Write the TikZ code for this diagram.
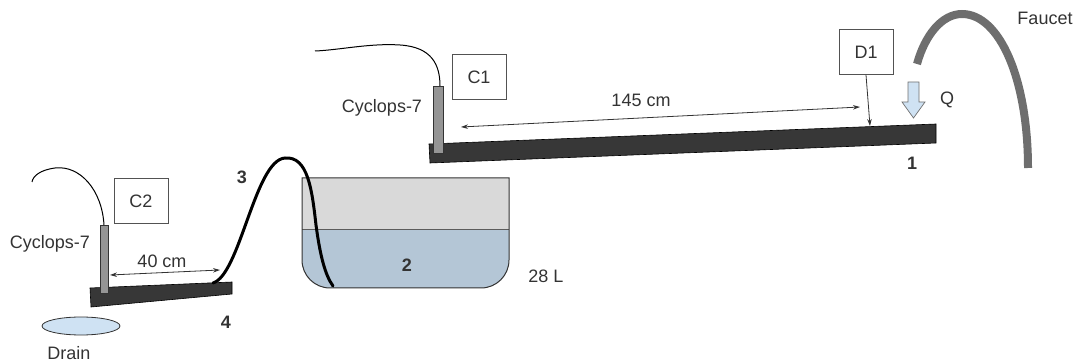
\documentclass[tikz,border=0pt]{standalone}
\usepackage{fontspec}
\setmainfont{Liberation Sans}
\usetikzlibrary{arrows.meta,shapes.geometric}
\definecolor{ink}{HTML}{333333}
\definecolor{board}{HTML}{373737}
\definecolor{probe}{HTML}{959595}
\definecolor{tankair}{HTML}{D9D9D9}
\definecolor{water}{HTML}{B4C6D6}
\definecolor{flow}{HTML}{CFE2F3}
\definecolor{faucet}{HTML}{6E6E6E}
\tikzset{
  lbl/.style={text=ink, font=\fontsize{18}{21}\selectfont, inner sep=0pt},
  num/.style={lbl, font=\fontsize{18}{21}\selectfont\bfseries},
  tagbox/.style={draw=ink!85, line width=0.8pt, fill=white, minimum width=54pt, minimum height=45pt, text=ink, font=\fontsize{18}{21}\selectfont},
  dim/.style={ink, line width=0.8pt, {Stealth[length=7pt,width=4.5pt]}-{Stealth[length=7pt,width=4.5pt]}},
  pointer/.style={ink, line width=0.8pt, -{Stealth[length=7pt,width=4.5pt]}},
  plank/.style={fill=board, draw=black, line width=0.6pt},
  probebar/.style={fill=probe, draw=ink, line width=0.7pt},
  cable/.style={black, line width=1pt},
}
\begin{document}
\begin{tikzpicture}[x=1pt,y=-1pt]
\useasboundingbox (0,0) rectangle (1079,363);

% ---- tank with water
\def\tankpath{(302,178) {[rounded corners=28pt] -- (302,288) -- (509,288)} -- (509,178) -- cycle}
\fill[tankair] \tankpath;
\begin{scope}
  \clip \tankpath;
  \fill[water] (298,229) rectangle (513,292);
\end{scope}
\draw[ink!80, line width=0.6pt] (302,229) -- (509,229);
\draw[ink, line width=1pt] \tankpath;
\node[num] (n2) at (407,265) {2};
\node[lbl] (vol) at (546,276) {28 L};

% ---- lower plank (outlet end)
\coordinate (p4a) at (90,288);
\coordinate (p4b) at (232,282);
\coordinate (p4c) at (232,294);
\coordinate (p4d) at (91,307);
\fill[plank] (p4a) -- (p4b) -- (p4c) -- (p4d) -- cycle;
\node[num] (n4) at (226,322) {4};

% ---- siphon hose from tank to lower plank
\coordinate (hoseout) at (213,283);
\coordinate (hosein) at (333,286);
\draw[black, line width=3pt, line cap=round]
  (hoseout) .. controls (240,275) and (255,160) .. (285,158)
            .. controls (308,156) and (312,190) .. (316,225)
            .. controls (320,255) and (325,275) .. (hosein);
\node[num] (n3) at (242,177) {3};

% ---- probe C2
\draw[probebar] (100,225) rectangle (108,293);
\coordinate (c2top) at (104,225);
\draw[cable] (c2top) .. controls (102,190) and (80,165) .. (55,168)
             .. controls (40,170) and (33,176) .. (32,182);
\node[tagbox] (c2) at (141,201) {C2};
\node[lbl] (cyc2) at (50,244) {Cyclops-7};
\coordinate (d40a) at (110,275);
\coordinate (d40b) at (220,270);
\draw[dim] (d40a) -- (d40b);
\node[lbl] (l40) at (162,261) {40 cm};

% ---- drain
\node[draw=ink, line width=0.8pt, fill=flow, ellipse, minimum width=78pt, minimum height=18pt, inner sep=0pt] (drain) at (81,326) {};
\node[lbl] (ldrain) at (69,353) {Drain};

% ---- upper plank (inlet end)
\coordinate (p1a) at (429,144);
\coordinate (p1b) at (936,124);
\coordinate (p1c) at (936,143);
\coordinate (p1d) at (430,163);
\fill[plank] (p1a) -- (p1b) -- (p1c) -- (p1d) -- cycle;
\node[num] (n1) at (912,163) {1};

% ---- probe C1
\draw[probebar] (433,86) rectangle (443,153);
\coordinate (c1top) at (440,86);
\draw[cable] (c1top) .. controls (440,65) and (432,47) .. (400,45)
             .. controls (370,43) and (340,50) .. (315,51);
\node[tagbox] (c1) at (479,77) {C1};
\node[lbl] (cyc1) at (382,108) {Cyclops-7};
\coordinate (d145a) at (461,127);
\coordinate (d145b) at (860,107);
\draw[dim] (d145a) -- (d145b);
\node[lbl] (l145) at (641,100) {145 cm};

% ---- dye injection point D1
\node[tagbox] (d1) at (866,52) {D1};
\coordinate (inject) at (870,126);
\draw[pointer] (d1.south) -- (inject);

% ---- inflow Q
\filldraw[fill=flow, draw=ink!70, line width=0.7pt]
  (908,82) -- (919,82) -- (919,102) -- (925,102) -- (913.5,118) -- (902,102) -- (908,102) -- cycle;
\node[lbl] (q) at (947,100) {Q};

% ---- faucet
\draw[faucet, line width=8pt]
  (917,64) .. controls (925,35) and (942,14) .. (962,14)
           .. controls (1000,14) and (1028,80) .. (1028,168);
\node[lbl] (lfaucet) at (1045,18) {Faucet};
\end{tikzpicture}
\end{document}
